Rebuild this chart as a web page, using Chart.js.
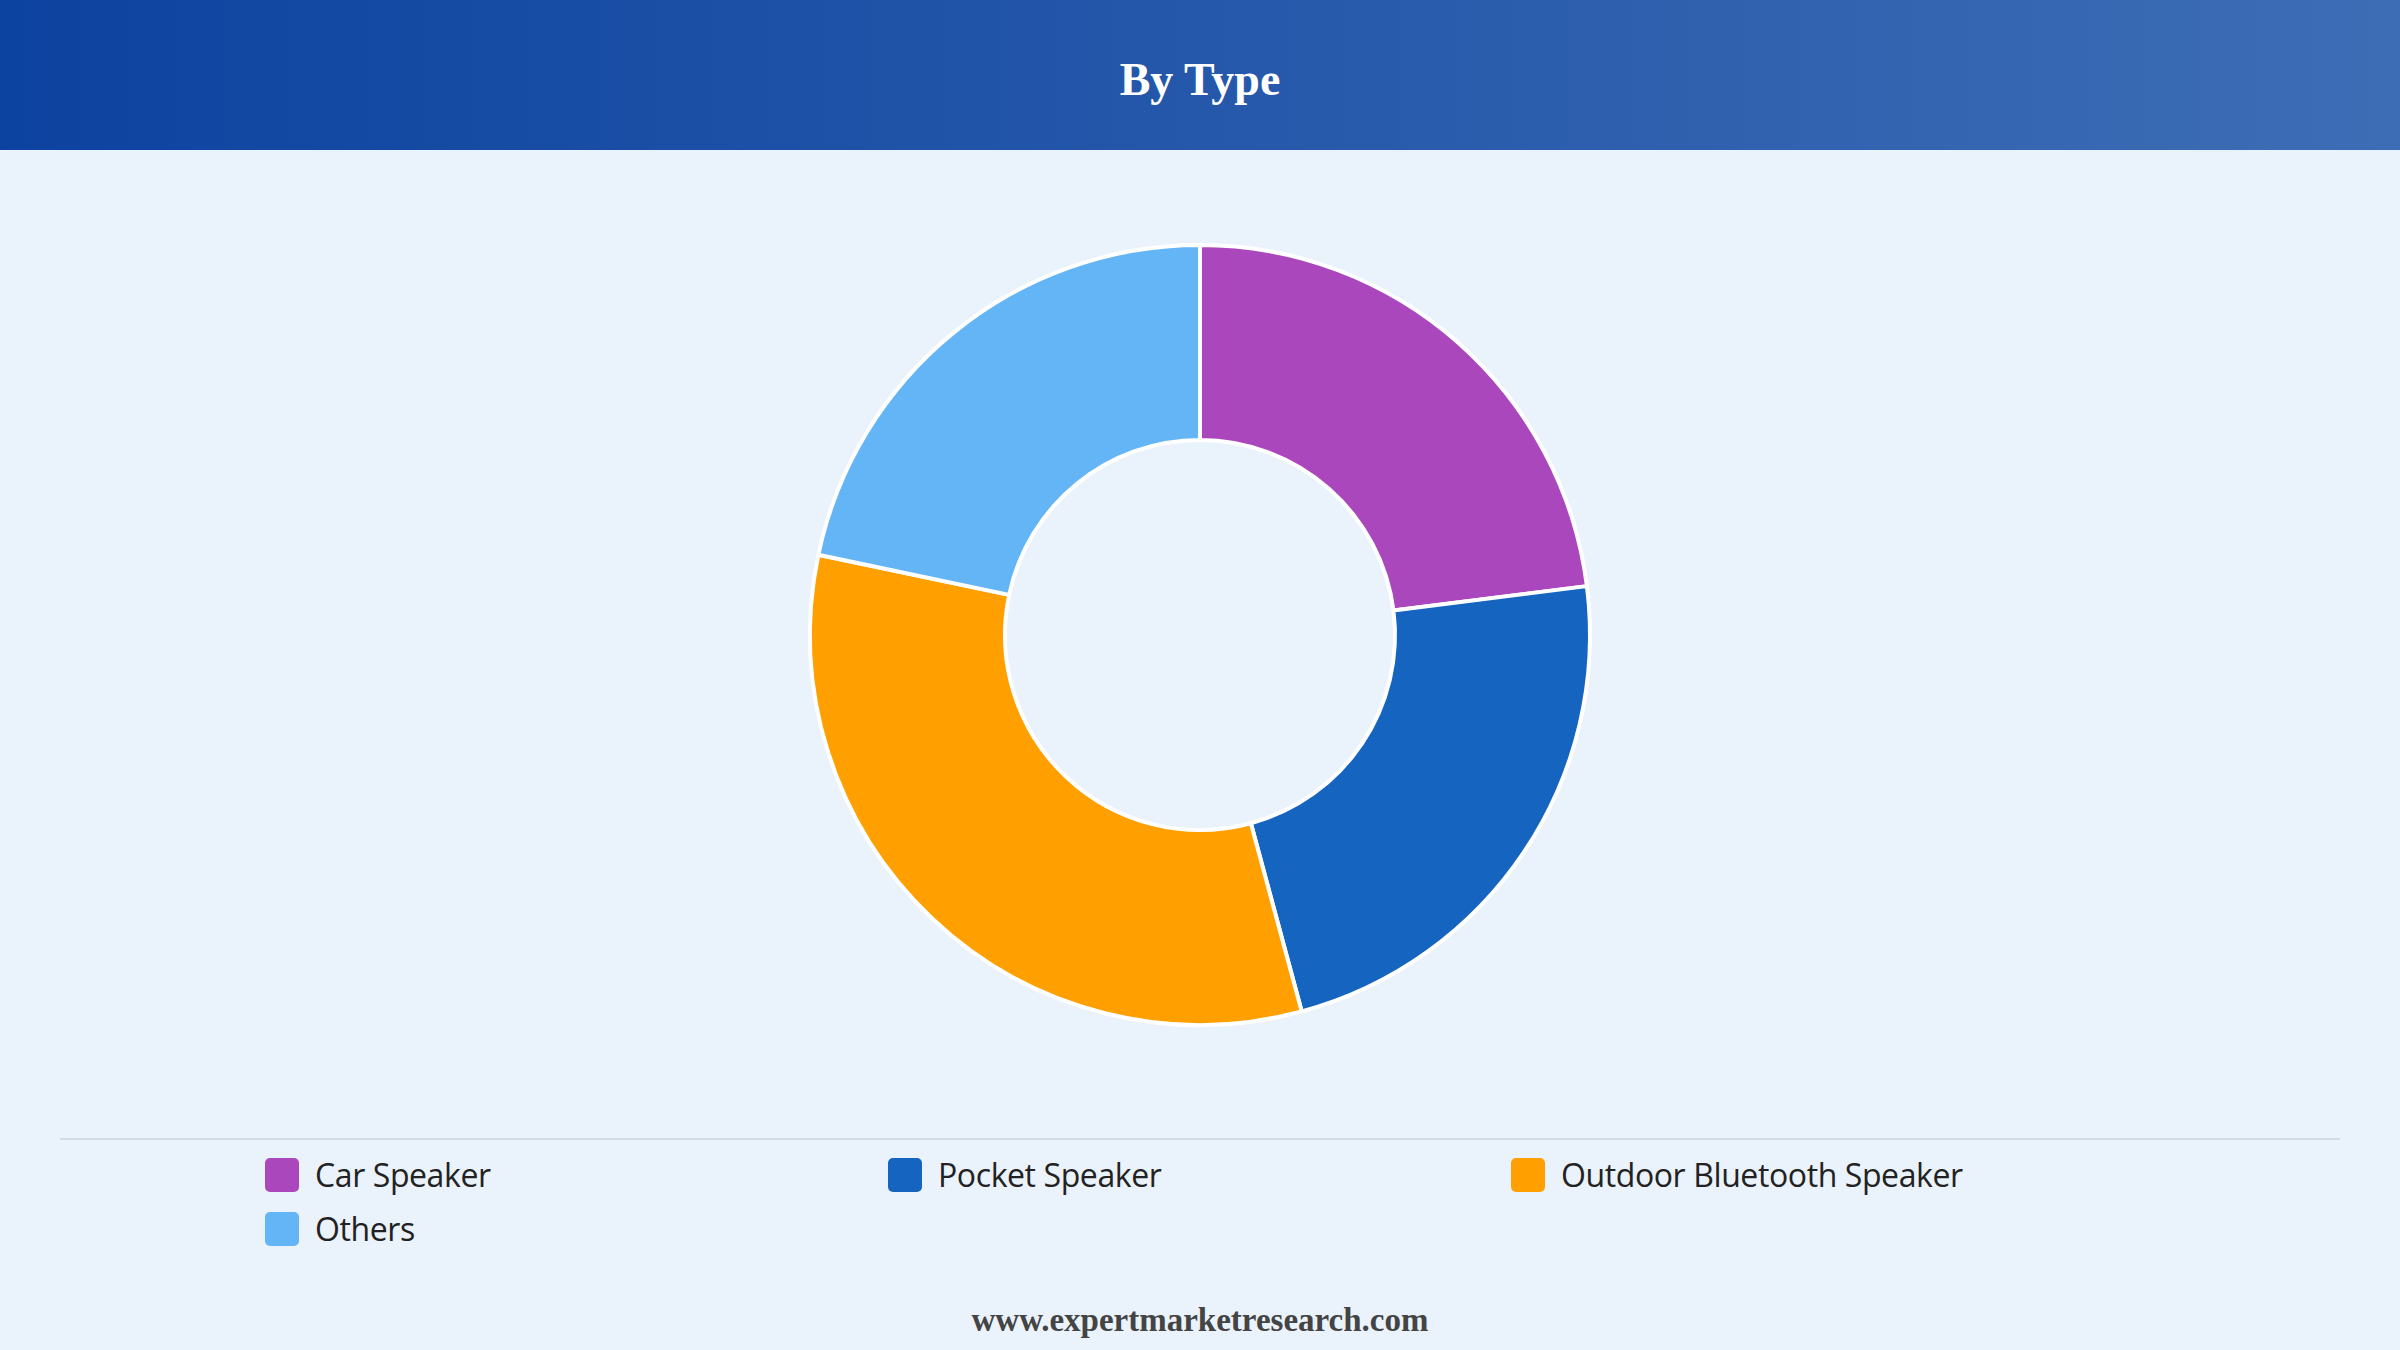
<!DOCTYPE html>
<html><head><meta charset="utf-8">
<script src="https://cdn.jsdelivr.net/npm/chart.js@4/dist/chart.umd.min.js"></script>
<style>
html,body{margin:0;padding:0;width:2400px;height:1350px;background:#eaf2fb;overflow:hidden;font-family:"Open Sans",sans-serif}
#hdr{position:absolute;left:0;top:0;width:2400px;height:150px;background:linear-gradient(90deg,#0d43a0,#3d6db5);}
#hdr div{color:#fff;font-family:"Liberation Serif",serif;font-weight:bold;font-size:46px;text-align:center;line-height:160px}
#wrap{position:absolute;left:0;top:150px;width:2400px;height:970px}
#line{position:absolute;left:60px;top:1138px;width:2280px;height:2px;background:#d6dbe2}
#legend{position:absolute;left:265px;top:1153px;width:2000px}
.item{position:absolute;display:flex;align-items:center;font-size:32px;letter-spacing:-0.4px;color:#222}
.sw{width:34px;height:34px;border-radius:5px;margin-right:16px}
#foot{position:absolute;left:0;top:1302px;width:2400px;text-align:center;font-family:"Liberation Serif",serif;font-weight:bold;font-size:33px;color:#444}
</style></head><body>
<div id="hdr"><div>By Type</div></div>
<div id="wrap"><canvas id="c"></canvas></div>
<div id="line"></div>
<div id="legend"></div>
<div id="foot">www.expertmarketresearch.com</div>
<script>
const categories=["Car Speaker","Pocket Speaker","Outdoor Bluetooth Speaker","Others"];
const values=[23,22.8,32.5,21.7];
const colors=["#ab47bc","#1565c0","#ffa000","#64b5f6"];
new Chart(document.getElementById('c'),{type:'doughnut',
data:{labels:categories,datasets:[{data:values,backgroundColor:colors,borderColor:'#fff',borderWidth:4}]},
options:{responsive:true,maintainAspectRatio:false,animation:false,cutout:'50%',
layout:{padding:93},plugins:{legend:{display:false},tooltip:{enabled:false}}}});
const lg=document.getElementById('legend');
categories.forEach((c,i)=>{const d=document.createElement('div');d.className='item';
d.style.left=(i%3)*623+'px';d.style.top=Math.floor(i/3)*54+'px';
d.innerHTML='<div class="sw" style="background:'+colors[i]+'"></div>'+c;lg.appendChild(d);});
</script></body></html>
